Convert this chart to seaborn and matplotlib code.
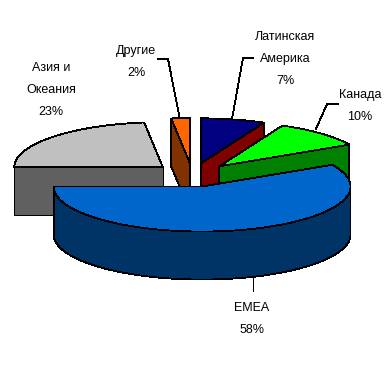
import numpy as np
import matplotlib
matplotlib.use("Agg")
import matplotlib.pyplot as plt
from matplotlib.patches import Polygon
import seaborn as sns

# Data
categories = ["EMEA", "Азия и\nОкеания", "Другие", "Латинская\nАмерика", "Канада"]
shares = [58, 23, 2, 7, 10]
top_colors = ["#0066CC", "#C0C0C0", "#FF6600", "#000080", "#00FF00"]
wall_colors = ["#003366", "#606060", "#803300", "#800000", "#008000"]

# Layout (pixels of the 386x389 image)
START_ANGLE = 28.8          # first slice starts here, clockwise
CX, CY = 192.3, 175.0
RX, RY, DEPTH = 148.5, 45.0, 48.0
EXPLODE = 0.265
LABEL_CENTERS = [(252, 308), (51, 68), (136, 51), (285, 37), (360, 95)]
LINE_STEP = 22
LEADERS = [
    [(253, 278), (253, 291)],
    None,
    [(158, 59), (168, 59), (179.5, 117)],
    [(253, 58), (243, 58), (232, 119)],
    [(338, 104), (327, 104), (316, 129)],
]
LINE_W = 0.6

sns.set_theme(style="white", rc={"axes.facecolor": "white", "figure.facecolor": "white"})
plt.rcParams["font.family"] = ["Liberation Sans", "DejaVu Sans"]

fig = plt.figure(figsize=(3.86, 3.89), dpi=100)
ax = fig.add_axes([0, 0, 1, 1])
ax.set_xlim(0, 386)
ax.set_ylim(389, 0)
ax.axis("off")
sns.despine(ax=ax, left=True, bottom=True)

EDGE = dict(edgecolor="black", linewidth=LINE_W, antialiased=False, joinstyle="miter")


def rim(cx, cy, deg):
    rad = np.radians(deg)
    return np.column_stack([cx + RX * np.cos(rad), cy - RY * np.sin(rad)])


# Boundaries of each slice, clockwise from the start angle
ends = START_ANGLE - 3.6 * np.cumsum(shares)
starts = np.r_[START_ANGLE, ends[:-1]]

# Back slices first, the front slice (first category) last
order = [1, 2, 3, 4, 0]
for rank, i in enumerate(order):
    a0, a1 = starts[i], ends[i]
    mid = np.radians((a0 + a1) / 2)
    cx = CX + EXPLODE * RX * np.cos(mid)
    cy = CY - EXPLODE * RY * np.sin(mid)
    down = np.array([0, DEPTH])
    apex = np.array([cx, cy])

    # Radial faces, rearmost first
    for a in sorted([a0, a1], key=lambda d: -np.sin(np.radians(d))):
        p = rim(cx, cy, np.array([a]))[0]
        ax.add_patch(Polygon([apex, p, p + down, apex + down],
                             facecolor=wall_colors[i], zorder=rank * 3 + 1, **EDGE))

    # Outer wall: only the part facing the viewer
    deg = np.linspace(a0, a1, 200)
    facing = deg[np.sin(np.radians(deg)) <= 1e-9]
    if len(facing) > 1:
        arc = rim(cx, cy, facing)
        ax.add_patch(Polygon(np.vstack([arc, arc[::-1] + down]),
                             facecolor=wall_colors[i], zorder=rank * 3 + 2, **EDGE))

    # Top surface
    ax.add_patch(Polygon(np.vstack([apex, rim(cx, cy, deg)]),
                         facecolor=top_colors[i], zorder=rank * 3 + 3, **EDGE))

# Labels and leader lines
for name, share, (lx, ly), leader in zip(categories, shares, LABEL_CENTERS, LEADERS):
    for k, line in enumerate(name.split("\n") + [f"{share}%"]):
        ax.text(lx, ly + k * LINE_STEP, line, ha="center", va="center",
                fontsize=9.0, color="black", zorder=30)
    if leader:
        xs, ys = zip(*leader)
        ax.plot(xs, ys, color="black", lw=LINE_W, antialiased=False, zorder=29)

fig.savefig("out.png", dpi=100)
